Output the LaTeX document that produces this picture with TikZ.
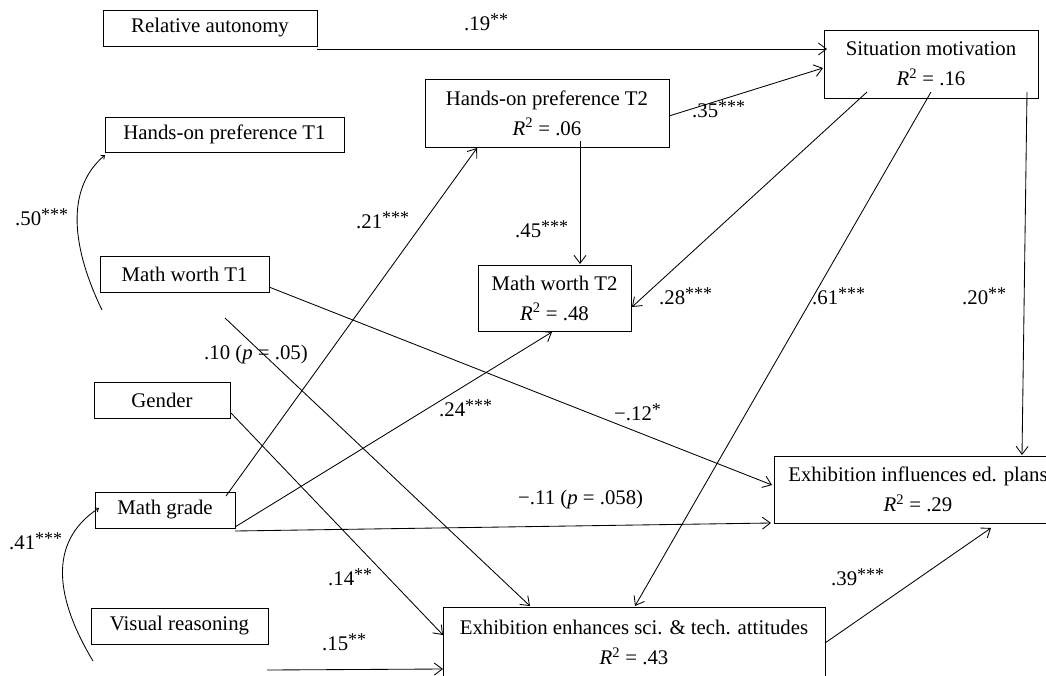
\documentclass[tikz,border=0pt]{standalone}
\usepackage{fontspec}
\setmainfont{Liberation Serif}
\usetikzlibrary{arrows.meta}
\newcommand\sigstars[1]{\raisebox{4.5pt}{\fontsize{18}{18}\selectfont #1}}
\begin{document}
\begin{tikzpicture}[x=1pt,y=-1pt,
  box/.style={draw, line width=0.9pt, inner sep=0pt, outer sep=0pt, anchor=north west, align=center, font=\fontsize{20.8}{30}\selectfont},
  lab/.style={anchor=base west, inner sep=0pt, font=\fontsize{20.8}{25}\selectfont},
  conn/.style={line width=0.85pt, -{Straight Barb[length=8pt,width=12pt]}},
  corr/.style={line width=0.85pt, -{Straight Barb[length=3pt,width=5pt]}}]
\useasboundingbox (0,0) rectangle (1046,675);

% boxes
\node[box, minimum width=214pt, minimum height=36pt] (ra) at (103,10) {Relative autonomy};
\node[box, minimum width=239pt, minimum height=35pt] (h1) at (105,117) {Hands-on preference T1};
\node[box, minimum width=169pt, minimum height=36pt] (mw1) at (100,256) {Math worth T1};
\node[box, minimum width=136pt, minimum height=36pt] (gen) at (94,382) {Gender};
\node[box, minimum width=140pt, minimum height=36pt] (mg) at (95,492) {Math grade};
\node[box, minimum width=177pt, minimum height=36pt] (vr) at (91,608) {Visual reasoning};
\node[box, minimum width=244pt, minimum height=68pt] (h2) at (425,79) {Hands-on preference T2\\{\itshape R}\textsuperscript{2} = .06};
\node[box, minimum width=214pt, minimum height=68pt] (sm) at (824,30) {Situation motivation\\{\itshape R}\textsuperscript{2} = .16};
\node[box, minimum width=153pt, minimum height=66pt] (mw2) at (478,265) {Math worth T2\\{\itshape R}\textsuperscript{2} = .48};
\node[box, minimum width=288pt, minimum height=67pt] (eip) at (774,456) {Exhibition influences ed. plans\\{\itshape R}\textsuperscript{2} = .29};
\node[box, minimum width=382pt, minimum height=71pt] (eea) at (443,607) {Exhibition enhances sci. \& tech. attitudes\\{\itshape R}\textsuperscript{2} = .43};

% free ends
\coordinate (c10) at (225,318);
\coordinate (c50) at (102,310);
\coordinate (c41) at (93,661);

% connectors
\draw[conn] ([xshift=214pt,yshift=-39pt]ra.north west) -- ([xshift=3pt,yshift=-19pt]sm.north west);
\draw[conn] ([xshift=244pt,yshift=-37pt]h2.north west) -- ([xshift=-1pt,yshift=-38pt]sm.north west);
\draw[conn] ([xshift=155pt,yshift=-62pt]h2.north west) -- ([xshift=102pt,yshift=1pt]mw2.north west);
\draw[conn] ([xshift=43pt,yshift=-62pt]sm.north west) -- ([xshift=154pt,yshift=-42pt]mw2.north west);
\draw[conn] ([xshift=107pt,yshift=-62pt]sm.north west) -- ([xshift=192pt,yshift=1pt]eea.north west);
\draw[conn] ([xshift=203pt,yshift=-62pt]sm.north west) -- ([xshift=248pt,yshift=1pt]eip.north west);
\draw[conn] ([xshift=131pt,yshift=-4pt]mg.north west) -- ([xshift=52pt,yshift=-69pt]h2.north west);
\draw[conn] ([xshift=140pt,yshift=-35pt]mg.north west) -- ([xshift=74pt,yshift=-67pt]mw2.north west);
\draw[conn] ([xshift=140pt,yshift=-39pt]mg.north west) -- ([xshift=-3pt,yshift=-67pt]eip.north west);
\draw[conn] ([xshift=169pt,yshift=-31pt]mw1.north west) -- ([xshift=-2pt,yshift=-29pt]eip.north west);
\draw[conn] (c10) -- ([xshift=87pt,yshift=1pt]eea.north west);
\draw[conn] ([xshift=137pt,yshift=-31pt]gen.north west) -- ([yshift=-28pt]eea.north west);
\draw[conn] ([xshift=176pt,yshift=-62pt]vr.north west) -- ([yshift=-62pt]eea.north west);
\draw[conn] ([xshift=382pt,yshift=-36pt]eea.north west) -- ([xshift=217pt,yshift=-72pt]eip.north west);

% correlations
\draw[corr] (c50) .. controls (73,250) and (64,190) .. ([yshift=-38pt]h1.north west);
\draw[corr] (c41) .. controls (57,601) and (46,543) .. ([xshift=4pt,yshift=-16pt]mg.north west);

% labels
\node[lab] (l19) at (464,30) {.19\sigstars{**}};
\node[lab] (l35) at (692,117) {.35\sigstars{***}};
\node[lab] (l45) at (515,237) {.45\sigstars{***}};
\node[lab] (l28) at (659,304) {.28\sigstars{***}};
\node[lab] (l61) at (812,304) {.61\sigstars{***}};
\node[lab] (l20) at (962,304) {.20\sigstars{**}};
\node[lab] (l21) at (356,228) {.21\sigstars{***}};
\node[lab] (l50) at (15,225) {.50\sigstars{***}};
\node[lab] (l24) at (439,416) {.24\sigstars{***}};
\node[lab] (l12) at (614,420) {−.12\sigstars{*}};
\node[lab] (l10) at (204,359) {.10 ({\itshape p} = .05)};
\node[lab] (l11) at (518,504) {−.11 ({\itshape p} = .058)};
\node[lab] (l41) at (9,549) {.41\sigstars{***}};
\node[lab] (l14) at (328,585) {.14\sigstars{**}};
\node[lab] (l39) at (831,585) {.39\sigstars{***}};
\node[lab] (l15) at (322,650) {.15\sigstars{**}};
\end{tikzpicture}
\end{document}
